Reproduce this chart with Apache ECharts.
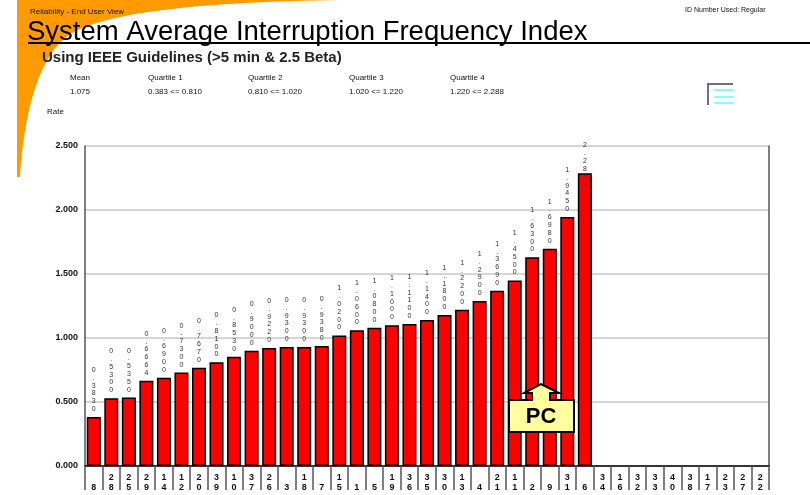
<!DOCTYPE html>
<html>
<head>
<meta charset="utf-8">
<script src="https://cdn.jsdelivr.net/npm/echarts@6/dist/echarts.min.js"></script>
<style>
	html, body { margin: 0; padding: 0; background: #fff; }
	#chart { width: 810px; height: 495px; }
</style>
</head>
<body>
<div id="chart"></div>
<script>
// feeder ids, sorted by rate
var feeders = ['8', '28', '25', '29', '14', '12', '20', '39', '10', '37', '26', '3', '18', '7', '15', '1', '5', '19', '36', '35',
	'30', '13', '4', '21', '11', '2', '9', '31', '6', '34', '16', '32', '33', '40', '38', '17', '23', '27', '22'];
var rates = [0.383, 0.530, 0.535, 0.6664, 0.690, 0.730, 0.767, 0.810, 0.853, 0.900, 0.922, 0.930, 0.930, 0.938,
	1.020, 1.060, 1.080, 1.100, 1.110, 1.140, 1.180, 1.220, 1.290, 1.369, 1.450, 1.630, 1.698, 1.945, 2.288];
var statNames = ['Mean', 'Quartile 1', 'Quartile 2', 'Quartile 3', 'Quartile 4'];
var statValues = ['1.075', '0.383 <= 0.810', '0.810 <= 1.020', '1.020 <= 1.220', '1.220 <= 2.288'];
var statX = [70, 148, 248, 349, 450];

var FONT = '"Liberation Sans", Arial, sans-serif';

function stack(s) {
	return String(s).split('').join('\n');
}

// orange swoosh in the top left corner
echarts.graphic.registerShape('swoosh', echarts.graphic.extendShape({
	shape: {},
	buildPath: function (ctx) {
		ctx.moveTo(17, 0);
		ctx.lineTo(340, 0);
		ctx.bezierCurveTo(200, 2, 110, 12, 72, 33);
		ctx.bezierCurveTo(40, 52, 24, 110, 20, 177);
		ctx.lineTo(17, 177);
		ctx.closePath();
	}
}));

var mainChart = echarts.init(document.getElementById('chart'));

var graphics = [
	{ type: 'swoosh', z: -10, shape: {}, style: { fill: '#ff9a00' } },
	{ type: 'text', x: 30, y: 12, style: { text: 'Reliability - End User View', font: '8px ' + FONT, fill: '#111', verticalAlign: 'middle' } },
	{ type: 'text', x: 685, y: 10, style: { text: 'ID Number Used: Regular', font: '7px ' + FONT, fill: '#111', verticalAlign: 'middle' } },
	{ type: 'text', x: 27, y: 46, style: { text: 'System Average Interruption Frequency Index', font: '27.5px ' + FONT, fill: '#000', verticalAlign: 'bottom' } },
	{ type: 'line', shape: { x1: 28, y1: 43, x2: 810, y2: 43 }, style: { stroke: '#000', lineWidth: 2 } },
	{ type: 'text', x: 42, y: 58, style: { text: 'Using IEEE Guidelines (>5 min & 2.5 Beta)', font: 'bold 15px ' + FONT, fill: '#222', verticalAlign: 'middle' } },
	{ type: 'text', x: 47, y: 112, style: { text: 'Rate', font: '8px ' + FONT, fill: '#111', verticalAlign: 'middle' } },
	// little icon top right
	{ type: 'polyline', shape: { points: [[708, 105], [708, 84], [733, 84]] }, style: { stroke: '#444', lineWidth: 1.5, fill: null } },
	{ type: 'line', shape: { x1: 714, y1: 90, x2: 733, y2: 90 }, style: { stroke: '#33ffff', lineWidth: 1.2 } },
	{ type: 'line', shape: { x1: 714, y1: 97, x2: 733, y2: 97 }, style: { stroke: '#33ffff', lineWidth: 1.2 } },
	{ type: 'line', shape: { x1: 714, y1: 103, x2: 733, y2: 103 }, style: { stroke: '#33ffff', lineWidth: 1.2 } },
	// PC callout
	{
		type: 'polygon', z: 100,
		shape: { points: [[509, 400], [532, 400], [532, 393], [524, 393], [541, 384], [559, 393], [550, 393], [550, 400], [574, 400], [574, 432], [509, 432]] },
		style: { fill: '#ffffa0', stroke: '#000', lineWidth: 2 }
	},
	{ type: 'text', z: 101, x: 541, y: 417, style: { text: 'PC', font: 'bold 22px ' + FONT, fill: '#000', align: 'center', verticalAlign: 'middle' } }
];

statNames.forEach(function (n, i) {
	graphics.push({ type: 'text', x: statX[i], y: 78, style: { text: n, font: '8px ' + FONT, fill: '#111', verticalAlign: 'middle' } });
	graphics.push({ type: 'text', x: statX[i], y: 92, style: { text: statValues[i], font: '8px ' + FONT, fill: '#111', verticalAlign: 'middle' } });
});

var barData = rates.map(function (v, i) {
	// top bar label is pushed down to stay inside the plot
	if (i === rates.length - 1) {
		return { value: v, label: { offset: [0, 19] } };
	}
	return v;
});

var chartOption = {
	animation: false,
	backgroundColor: '#fff',
	grid: {
		left: 85,
		right: 41,
		top: 146,
		bottom: 29
	},
	xAxis: {
		type: 'category',
		data: feeders,
		axisLine: { lineStyle: { color: '#000', width: 1.5 } },
		axisTick: { show: true, length: 24, lineStyle: { color: '#555', width: 1.5 } },
		axisLabel: {
			interval: 0,
			formatter: stack,
			fontFamily: FONT,
			fontSize: 9,
			fontWeight: 'bold',
			lineHeight: 10,
			color: '#111',
			verticalAlign: 'bottom',
			margin: 27
		}
	},
	yAxis: [{
		type: 'value',
		min: 0,
		max: 2.5,
		interval: 0.5,
		axisLine: { show: true, lineStyle: { color: '#555', width: 1.5 } },
		axisTick: { show: false },
		axisLabel: {
			formatter: function (v) { return v.toFixed(3); },
			fontFamily: FONT,
			fontSize: 9,
			fontWeight: 'bold',
			color: '#111',
			margin: 7
		},
		splitLine: { lineStyle: { color: '#c8c8c8', width: 1.5 } }
	}, {
		type: 'value',
		position: 'right',
		min: 0,
		max: 2.5,
		interval: 0.5,
		axisLine: { show: true, lineStyle: { color: '#555', width: 1.5 } },
		axisTick: { show: false },
		axisLabel: { show: false },
		splitLine: { show: false }
	}],
	series: [{
		type: 'bar',
		data: barData,
		barWidth: 14,
		itemStyle: {
			color: '#ff0000',
			borderColor: '#000',
			borderWidth: 1.5
		},
		label: {
			show: true,
			position: 'top',
			distance: 4,
			formatter: function (p) { return stack(p.value.toFixed(4)); },
			fontFamily: FONT,
			fontSize: 7,
			lineHeight: 7.8,
			color: '#333'
		}
	}],
	graphic: graphics
};

mainChart.setOption(chartOption);
</script>
</body>
</html>
